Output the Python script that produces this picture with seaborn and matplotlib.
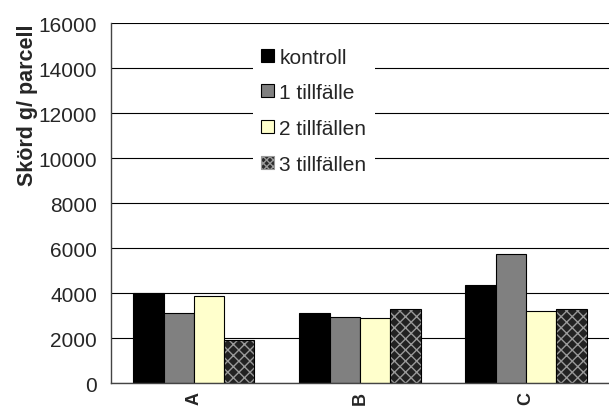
import pandas as pd
import numpy as np
import matplotlib.pyplot as plt
import seaborn as sns
from matplotlib.patches import Rectangle

platser = ['A', 'B', 'C']
serier = ['kontroll', '1 tillfälle', '2 tillfällen', '3 tillfällen']
kontroll = [4000, 3100, 4350]
tillf1 = [3100, 2950, 5750]
tillf2 = [3850, 2900, 3200]
tillf3 = [1900, 3300, 3300]

farger = ['#000000', '#808080', '#ffffcc', '#2a2a2a']

rows = []
for namn, vals in zip(serier, [kontroll, tillf1, tillf2, tillf3]):
    for p, v in zip(platser, vals):
        rows.append({'plats': p, 'serie': namn, 'skord': v})
df = pd.DataFrame(rows)

sns.set_style('white')
plt.rcParams['font.family'] = ['Liberation Sans', 'DejaVu Sans']

fig = plt.figure(figsize=(6.09, 4.10), dpi=100)
ax = fig.add_axes([0.182, 0.0634, 0.818, 0.878])

sns.barplot(data=df, x='plats', y='skord', hue='serie', palette=farger,
            width=0.73, gap=0, edgecolor='black', linewidth=0.8,
            saturation=1, ax=ax, legend=True)

# rutmönster på sista serien
for bar in ax.containers[3]:
    bar.set_facecolor('#222222')
    bar.set_edgecolor('#999999')
    bar.set_hatch('xxx')
    bar.set_linewidth(0)
    ax.add_patch(Rectangle(bar.get_xy(), bar.get_width(), bar.get_height(),
                           fill=False, edgecolor='black', linewidth=0.8, zorder=bar.get_zorder() + 0.1))

ax.set_ylim(0, 16000)
ax.set_xlim(-0.5, 2.5)
ax.set_yticks(np.arange(0, 16001, 2000))
ax.yaxis.grid(True, color='black', linewidth=0.8)
ax.set_axisbelow(True)

ax.set_xticks([0, 1, 2])
ax.set_xticklabels(platser, rotation=90, fontweight='bold', fontsize=13)
ax.set_xticks([-0.5, 0.5, 1.5, 2.5], minor=True)
ax.tick_params(axis='x', which='major', length=0, pad=6)
ax.tick_params(axis='x', which='minor', length=5, width=0.8, direction='out', color='#444444')
ax.tick_params(axis='y', length=7, width=0.8, direction='out', labelsize=15, color='#444444', pad=3)
ax.set_xlabel('')
ax.set_ylabel('Skörd g/ parcell', fontsize=15.5, fontweight='bold')
ax.yaxis.set_label_coords(-0.147, 0.775)

for s in ['top', 'right']:
    ax.spines[s].set_visible(False)
for s in ['left', 'bottom']:
    ax.spines[s].set_color('#444444')
    ax.spines[s].set_linewidth(1)

leg = ax.legend(loc='upper left', bbox_to_anchor=(0.285, 0.955), frameon=True,
                fontsize=15, handlelength=0.6, handleheight=0.6, handletextpad=0.27,
                labelspacing=0.8, borderpad=0.4, borderaxespad=0, fancybox=False)
leg.get_frame().set_facecolor('white')
leg.get_frame().set_edgecolor('none')
leg.get_frame().set_alpha(1)
h = leg.legend_handles[3]
h.set_hatch('xxxxx')
h.set_edgecolor('#999999')

fig.savefig('out.png', dpi=100)
